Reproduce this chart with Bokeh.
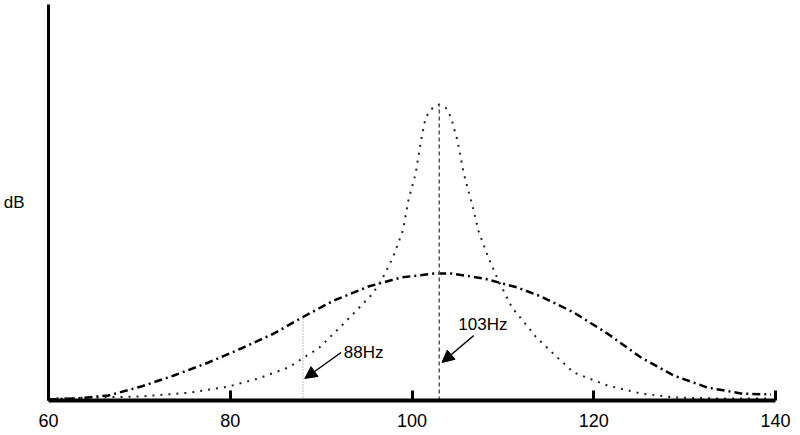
from bokeh.plotting import figure
from bokeh.models import Range1d, FixedTicker, Arrow, NormalHead, ColumnDataSource
from bokeh.embed import file_html
from bokeh.resources import INLINE
from bokeh.core.properties import value

# ---- data ----
x_ticks = [60, 80, 100, 120, 140]
y_label = "dB"

# narrow resonance (dotted curve), frequency in Hz, level in arbitrary dB units
res_freq = [60, 70.2, 75.7, 79.8, 83.1, 86.4, 88.1, 89.7, 92.5, 95.7, 96.8, 97.9,
            99.0, 99.6, 100.4, 101.0, 101.5, 102.3, 103.0, 103.7, 104.3, 105.0,
            105.7, 106.7, 107.3, 108.4, 109.5, 111.0, 113.7, 116.0, 117.8, 121.5,
            125.2, 128.8, 134.0, 139.5]
res_db = [2, 4, 8, 14, 22, 33, 43, 52, 77, 107, 123, 143,
          170, 200, 227, 260, 283, 293, 296, 293, 283, 260,
          227, 193, 170, 143, 120, 93, 63, 43, 28, 15,
          7, 3, 2, 2]

# broad response (dash-dot curve)
broad_freq = [60, 62.9, 66.6, 70.2, 73.8, 77.6, 81.2, 84.8, 88.1, 91.4, 95.2, 98.8,
              102.4, 104.3, 107.9, 111.6, 114.2, 117.8, 121.5, 125.2, 128.8, 132.5,
              136.2, 139.5]
broad_db = [1, 2, 5, 14, 25, 38, 52, 67, 84, 100, 114, 123,
            127, 127, 122, 113, 104, 88, 67, 43, 25, 13,
            7, 6]

# marker lines and their annotations
marker_freq = [88, 103]
marker_top = [84, 296]
marker_labels = ["88Hz", "103Hz"]
label_freq = [92.5, 105.1]
label_db = [48.5, 76.5]
arrow_start_freq = [92.2, 106.8]
arrow_start_db = [48, 65]
arrow_end_freq = [88.2, 103.3]
arrow_end_db = [22, 38]

FONT = "Liberation Sans"

p = figure(width=800, height=435, x_range=Range1d(60, 140), y_range=Range1d(0, 396),
           output_backend="svg", toolbar_location=None,
           min_border_left=46, min_border_right=25, min_border_top=4, min_border_bottom=35)
p.grid.visible = False
p.outline_line_color = None
p.background_fill_color = "white"

# y axis: bare thick line with a horizontal "dB" label
p.yaxis.ticker = FixedTicker(ticks=[])
p.yaxis.axis_line_width = 3
p.yaxis.axis_line_color = "black"
p.yaxis.major_tick_line_color = None
p.yaxis.minor_tick_line_color = None
p.yaxis.major_label_text_color = None
p.yaxis.axis_label = y_label
p.yaxis.axis_label_orientation = "horizontal"
p.yaxis.axis_label_standoff = 24
p.yaxis.axis_label_text_font = FONT
p.yaxis.axis_label_text_font_size = "17px"
p.yaxis.axis_label_text_font_style = "normal"
p.yaxis.axis_label_text_color = "black"

# x axis: thick line with inward ticks
p.xaxis.ticker = FixedTicker(ticks=x_ticks)
p.xaxis.axis_line_width = 4
p.xaxis.axis_line_color = "black"
p.xaxis.major_tick_in = 10
p.xaxis.major_tick_out = 0
p.xaxis.major_tick_line_width = 3
p.xaxis.major_tick_line_color = "black"
p.xaxis.minor_tick_line_color = None
p.xaxis.major_label_text_font = FONT
p.xaxis.major_label_text_font_size = "18px"
p.xaxis.major_label_text_color = "black"
p.xaxis.major_label_standoff = 13

# curves
p.line(broad_freq, broad_db, line_color="black", line_width=2.5, line_dash="8 4 2 4")
p.line(res_freq, res_db, line_color="#222222", line_width=2, line_dash="2 6")

# marker lines
p.segment(x0=[marker_freq[0]], y0=[0], x1=[marker_freq[0]], y1=[marker_top[0]],
          line_color="#777777", line_width=1, line_dash="1 2")
p.segment(x0=[marker_freq[1]], y0=[0], x1=[marker_freq[1]], y1=[marker_top[1]],
          line_color="#555555", line_width=1.5, line_dash="4 3")

# annotations
src = ColumnDataSource(dict(x=label_freq, y=label_db, t=marker_labels))
p.text(x="x", y="y", text="t", source=src, text_font=value(FONT), text_font_size="17px",
       text_align="left", text_baseline="middle", text_color="black")

for xs, ys, xe, ye in zip(arrow_start_freq, arrow_start_db, arrow_end_freq, arrow_end_db):
    p.add_layout(Arrow(end=NormalHead(size=12, fill_color="black", line_color="black"),
                       x_start=xs, y_start=ys, x_end=xe, y_end=ye,
                       line_color="black", line_width=1.5))

open("out.html", "w").write(file_html(p, INLINE))
